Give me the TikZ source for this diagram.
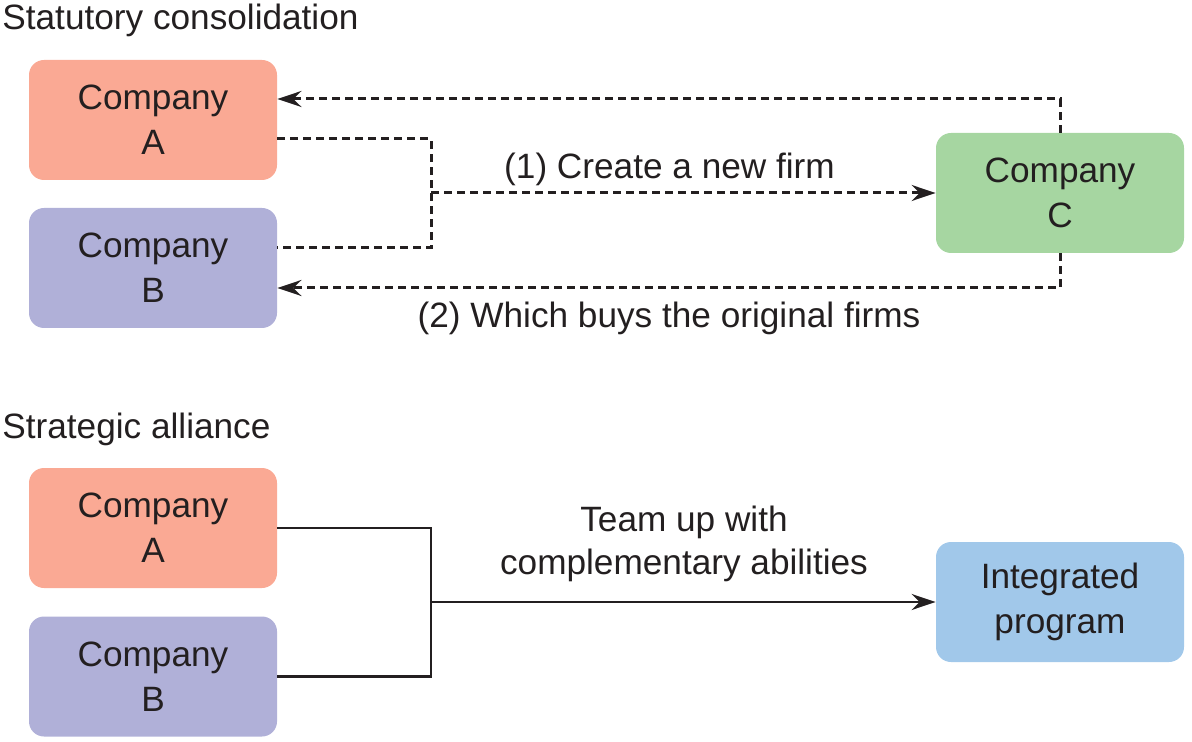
\documentclass[tikz,border=0pt]{standalone}
\usepackage{fontspec}
\setmainfont{Liberation Sans}
\usetikzlibrary{arrows.meta,calc}
\definecolor{cA}{RGB}{250,169,148}
\definecolor{cB}{RGB}{176,176,216}
\definecolor{cC}{RGB}{166,214,161}
\definecolor{cI}{RGB}{161,200,234}
\definecolor{ink}{RGB}{35,31,32}
\begin{document}
\begin{tikzpicture}[x=0.5pt,y=-0.5pt,
  box/.style={rectangle, rounded corners=7.5pt, minimum width=124pt, minimum height=60pt,
    inner sep=0pt, align=center, text=ink, font=\fontsize{17.6}{22.3}\selectfont},
  lbl/.style={text=ink, inner sep=0pt, align=center, font=\fontsize{17.6}{21.8}\selectfont},
  dashline/.style={draw=ink, line width=1.5pt, dash pattern=on 4pt off 2.5pt},
  solidline/.style={draw=ink, line width=1.4pt},
  tip/.style={-{Stealth[length=12pt,width=8pt,inset=4pt]}}]
\useasboundingbox (0,0) rectangle (1192,742);

% headings
\node[lbl, anchor=base west] (h1) at (2,30) {Statutory consolidation};
\node[lbl, anchor=base west] (h2) at (2,438) {Strategic alliance};

% statutory consolidation
\node[box, fill=cA] (A1) at (153,120) {Company\\A};
\node[box, fill=cB] (B1) at (153,268) {Company\\B};
\node[box, fill=cC] (C) at (1060,193) {Company\\C};
\coordinate (J1) at (431,193);

\draw[dashline] ($(A1.east)+(0,19)$) -| (J1) |- ($(B1.east)+(0,-20)$);
\draw[dashline, tip] (J1) -- (C.west);
\draw[dashline, tip] (C.north) |- ($(A1.east)+(0,-21)$);
\draw[dashline, tip] (C.south) |- ($(B1.east)+(0,20)$);

\node[lbl, anchor=base] (l1) at (669.5,179) {(1) Create a new firm};
\node[lbl, anchor=base] (l2) at (669,328) {(2) Which buys the original firms};

% strategic alliance
\node[box, fill=cA] (A2) at (153,528) {Company\\A};
\node[box, fill=cB] (B2) at (153,676.5) {Company\\B};
\node[box, fill=cI] (I) at (1060,602) {Integrated\\program};
\coordinate (J2) at (431,602);

\draw[solidline] (A2.east) -| (J2) |- (B2.east);
\draw[solidline, tip] (J2) -- (I.west);

\node[lbl] (l3) at (684,544) {Team up with\\complementary abilities};
\end{tikzpicture}
\end{document}
